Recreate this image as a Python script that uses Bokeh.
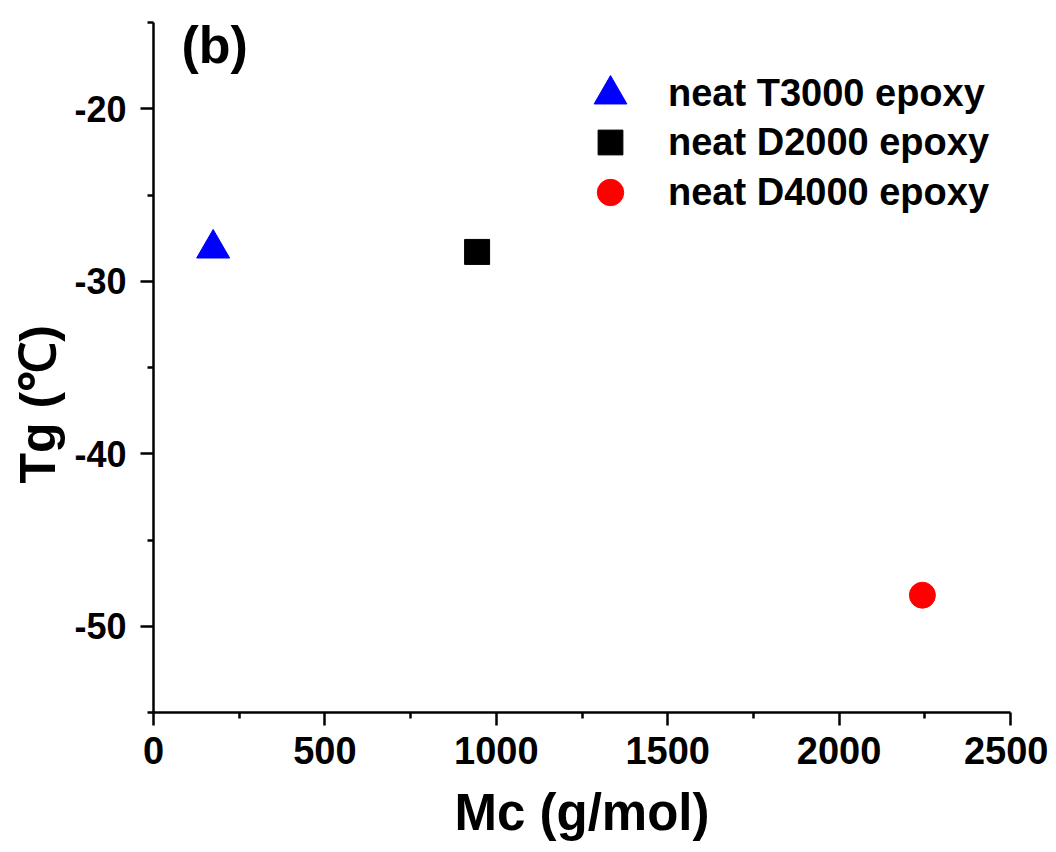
import math
from bokeh.plotting import figure
from bokeh.models import FixedTicker, Legend, LegendItem, Label, Range1d, Title
from bokeh.embed import file_html
from bokeh.resources import INLINE

# ---- data ----
names = ["neat T3000 epoxy", "neat D2000 epoxy", "neat D4000 epoxy"]
mc = [174, 944, 2243]
tg = [-28.1, -28.3, -48.2]
x_major = [0, 500, 1000, 1500, 2000, 2500]
x_minor = [250, 750, 1250, 1750, 2250]
x_tick_labels = ["0", "500", "1000", "1500", "2000", "2500"]
y_major = [-50, -40, -30, -20]
y_minor = [-55, -45, -35, -25, -15]
y_tick_labels = ["-50", "-40", "-30", "-20"]

# ---- styles ----
markers = ["triangle", "square", "circle"]
colors = ["#0000FF", "#000000", "#FF0000"]
sizes = [33, 25, 26]
FONT = "Liberation Sans"

p = figure(width=1048, height=844, output_backend="svg", toolbar_location=None,
           x_range=Range1d(0, 2500), y_range=Range1d(-55, -15),
           min_border_left=153, min_border_right=38, min_border_top=22,
           min_border_bottom=132)
p.outline_line_color = None
p.grid.visible = False
p.background_fill_color = "white"
p.border_fill_color = "white"

renderers = []
for i in range(len(names)):
    r = p.scatter([mc[i]], [tg[i]], marker=markers[i], size=sizes[i],
                  fill_color=colors[i], line_color=colors[i])
    renderers.append(r)

# axes
for ax in (p.xaxis[0], p.yaxis[0]):
    ax.axis_line_width = 2.5
    ax.axis_line_color = "black"
    ax.major_tick_line_width = 2.5
    ax.minor_tick_line_width = 2.5
    ax.major_tick_line_color = "black"
    ax.minor_tick_line_color = "black"
    ax.major_tick_out = 13
    ax.major_tick_in = 0
    ax.minor_tick_out = 6
    ax.minor_tick_in = 0
    ax.major_label_text_font = FONT
    ax.major_label_text_font_style = "bold"
    ax.major_label_text_color = "black"

p.xaxis.major_label_text_font_size = "38px"
p.yaxis.major_label_text_font_size = "36px"
p.xaxis.ticker = FixedTicker(ticks=x_major, minor_ticks=x_minor)
p.yaxis.ticker = FixedTicker(ticks=y_major, minor_ticks=y_minor)
p.xaxis.major_label_overrides = {t: s for t, s in zip(x_major, x_tick_labels)}
p.yaxis.major_label_overrides = {t: s for t, s in zip(y_major, y_tick_labels)}
p.xaxis.major_label_standoff = 11
p.yaxis.major_label_standoff = 14

p.xaxis.axis_label = "Mc (g/mol)"
p.xaxis.axis_label_text_font = FONT
p.xaxis.axis_label_text_font_style = "bold"
p.xaxis.axis_label_text_font_size = "51px"
p.xaxis.axis_label_text_color = "black"
p.xaxis.axis_label_standoff = 17

# y-axis title
p.add_layout(Title(text="Tg (℃)", align="left", offset=229, standoff=12,
                   text_font=FONT, text_font_style="bold",
                   text_font_size="50px", text_color="black"), "left")

# panel label
p.add_layout(Label(x=28, y=668, x_units="screen", y_units="screen",
                   text="(b)", text_font=FONT, text_font_style="bold",
                   text_font_size="52px", text_color="black",
                   text_align="left", text_baseline="alphabetic"))

# legends: one per item so that marker sizes and row spacing match
glyph_box = [82, 62, 66]
row_center = [618.5, 570, 520]
glyph_cx = 457
text_x = 515
for i in range(len(names)):
    g = glyph_box[i]
    leg = Legend(items=[LegendItem(label=names[i], renderers=[renderers[i]])],
                 location=(glyph_cx - g / 2, row_center[i] - g / 2),
                 glyph_width=g, glyph_height=g,
                 label_standoff=int(round(text_x - (glyph_cx + g / 2))),
                 padding=0, margin=0, spacing=0,
                 border_line_alpha=0, background_fill_alpha=0,
                 label_text_font=FONT, label_text_font_style="bold",
                 label_text_font_size="38px", label_text_color="black",
                 label_height=g)
    p.add_layout(leg)

open("out.html", "w").write(file_html(p, INLINE))
